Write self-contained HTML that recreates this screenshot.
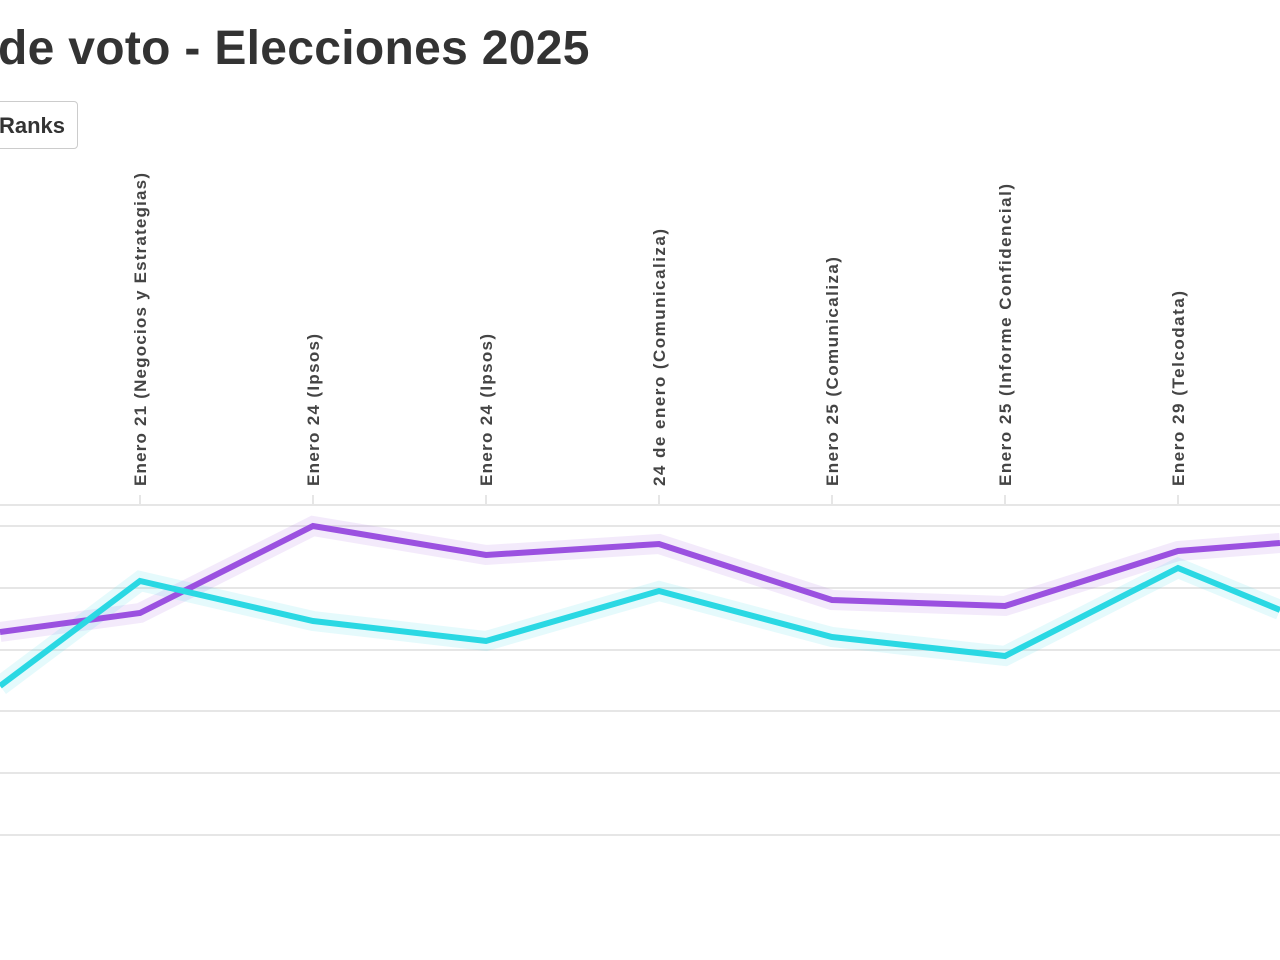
<!DOCTYPE html><html><head><style>
body{margin:0;width:1280px;height:960px;background:#fff;overflow:hidden;font-family:"Liberation Sans",sans-serif;position:relative}
.t{position:absolute;left:-2px;top:21px;font-size:48px;font-weight:bold;color:#333;white-space:nowrap;letter-spacing:0.3px}
.b{position:absolute;left:-10px;top:101px;width:88px;height:48px;border:1px solid #ccc;border-radius:4px;font-size:22px;font-weight:bold;color:#333;line-height:48px;text-align:right;box-sizing:border-box}
.b span{margin-right:12px}
</style></head><body>
<div class="t">de voto - Elecciones 2025</div>
<div class="b"><span>Ranks</span></div>
<svg width="1280" height="960" style="position:absolute;left:0;top:0">
<g stroke="#e6e6e6" stroke-width="2">
<line x1="0" y1="505" x2="1280" y2="505"/><line x1="0" y1="526" x2="1280" y2="526"/><line x1="0" y1="588" x2="1280" y2="588"/><line x1="0" y1="650" x2="1280" y2="650"/><line x1="0" y1="711" x2="1280" y2="711"/><line x1="0" y1="773" x2="1280" y2="773"/><line x1="0" y1="835" x2="1280" y2="835"/>
<line x1="140" y1="495" x2="140" y2="505"/><line x1="313" y1="495" x2="313" y2="505"/><line x1="486" y1="495" x2="486" y2="505"/><line x1="659" y1="495" x2="659" y2="505"/><line x1="832" y1="495" x2="832" y2="505"/><line x1="1005" y1="495" x2="1005" y2="505"/><line x1="1178" y1="495" x2="1178" y2="505"/>
</g>
<g font-size="17" font-weight="bold" fill="#444" text-anchor="start">
<text transform="translate(146,486) rotate(-90)" textLength="313" lengthAdjust="spacing">Enero 21 (Negocios y Estrategias)</text>
<text transform="translate(319,486) rotate(-90)" textLength="152" lengthAdjust="spacing">Enero 24 (Ipsos)</text>
<text transform="translate(492,486) rotate(-90)" textLength="152" lengthAdjust="spacing">Enero 24 (Ipsos)</text>
<text transform="translate(665,486) rotate(-90)" textLength="257" lengthAdjust="spacing">24 de enero (Comunicaliza)</text>
<text transform="translate(838,486) rotate(-90)" textLength="229" lengthAdjust="spacing">Enero 25 (Comunicaliza)</text>
<text transform="translate(1011,486) rotate(-90)" textLength="302" lengthAdjust="spacing">Enero 25 (Informe Confidencial)</text>
<text transform="translate(1184,486) rotate(-90)" textLength="195" lengthAdjust="spacing">Enero 29 (Telcodata)</text>
</g>
<g fill="none" stroke-linejoin="miter">
<polyline points="0,632 140,613 313,526 486,555 659,544 832,600 1005,606 1178,551 1280,543" stroke="#9b51e0" stroke-opacity="0.12" stroke-width="20"/>
<polyline points="0,686 140,581 313,621 486,641 659,591 832,637 1005,656 1178,568 1280,610" stroke="#2ad8e3" stroke-opacity="0.12" stroke-width="20"/>
<polyline points="0,632 140,613 313,526 486,555 659,544 832,600 1005,606 1178,551 1280,543" stroke="#9b51e0" stroke-width="6"/>
<polyline points="0,686 140,581 313,621 486,641 659,591 832,637 1005,656 1178,568 1280,610" stroke="#2ad8e3" stroke-width="6"/>
</g>
</svg>
</body></html>
